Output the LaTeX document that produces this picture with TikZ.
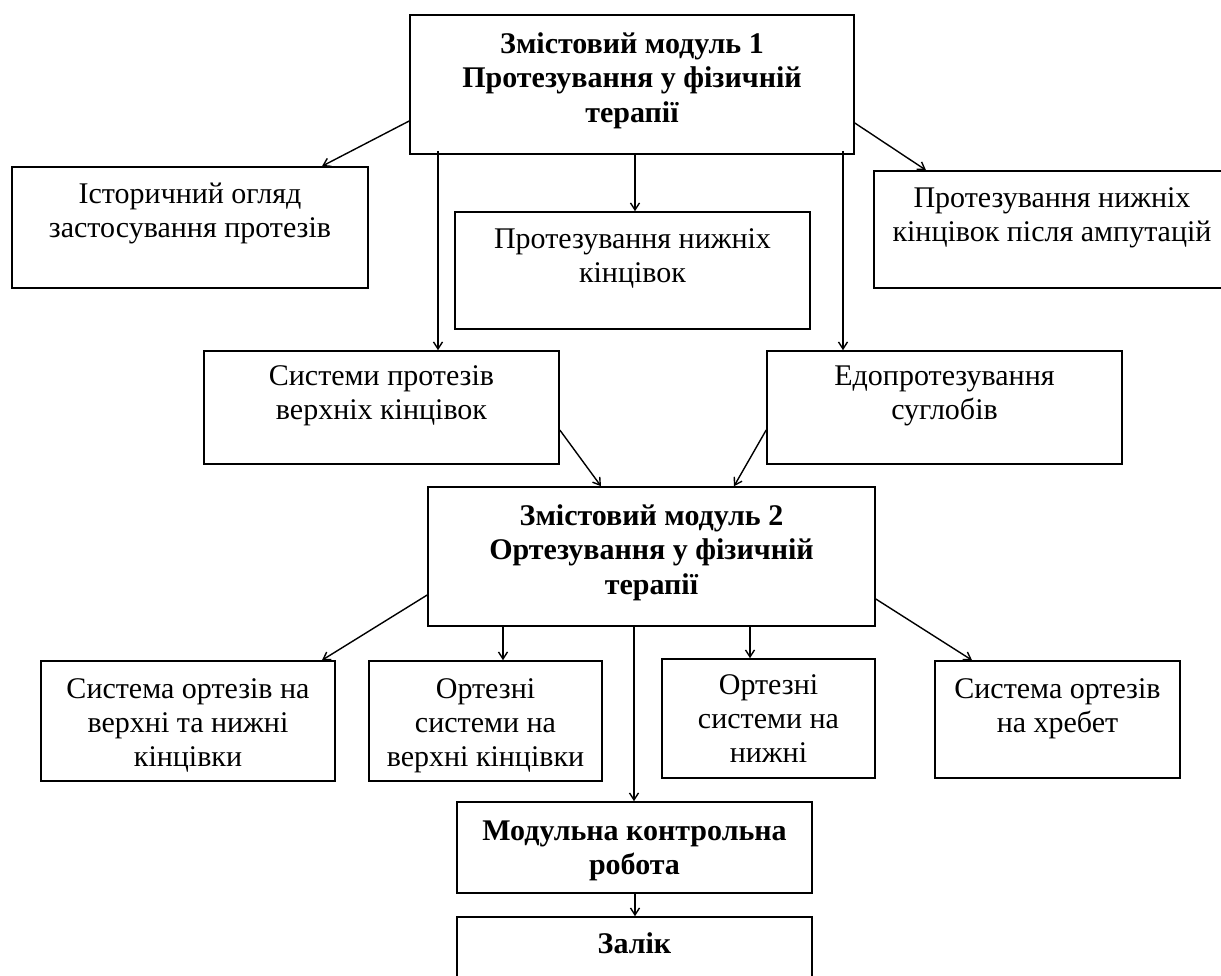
\documentclass[tikz,border=0pt]{standalone}
\usepackage{fontspec}
\setmainfont{Liberation Serif}
\usetikzlibrary{arrows.meta}
\newcommand{\tstr}{\rule{0pt}{22pt}}
\tikzset{
  box/.style={draw, line width=1.6pt, inner sep=0pt},
  txt/.style={align=center, inner sep=0pt, anchor=north, font=\fontsize{30}{34}\selectfont},
  btxt/.style={align=center, inner sep=0pt, anchor=north, font=\fontsize{30}{34.5}\selectfont\bfseries},
  arr/.style={line width=1.4pt, -{Straight Barb[length=7pt,width=9pt]}}
}
\begin{document}
\begin{tikzpicture}[x=1pt,y=-1pt]
\useasboundingbox (0,0) rectangle (1221,976);
\clip (0,0) rectangle (1221,976);
% boxes
\node[box, minimum width=444pt, minimum height=139pt] (m1) at (632,84.5) {};
\node[box, minimum width=356pt, minimum height=121pt] (hist) at (190,227.5) {};
\node[box, minimum width=355pt, minimum height=117pt] (lower) at (632.5,270.5) {};
\node[box, minimum width=356pt, minimum height=117pt] (post) at (1052,229.5) {};
\node[box, minimum width=355pt, minimum height=113pt] (sysup) at (381.5,407.5) {};
\node[box, minimum width=355pt, minimum height=113pt] (endo) at (944.5,407.5) {};
\node[box, minimum width=447pt, minimum height=139pt] (m2) at (651.5,556.5) {};
\node[box, minimum width=294pt, minimum height=120pt] (o1) at (188,721) {};
\node[box, minimum width=233pt, minimum height=120pt] (o2) at (485.5,721) {};
\node[box, minimum width=213pt, minimum height=119pt] (o3) at (768.5,718.5) {};
\node[box, minimum width=245pt, minimum height=117pt] (o4) at (1057.5,719.5) {};
\node[box, minimum width=355pt, minimum height=91pt] (mkr) at (634.5,847.5) {};
\node[box, minimum width=355pt, minimum height=78pt] (zal) at (634.5,956) {};
% texts
\node[btxt] (m1t) at (632,31) {\tstr Змістовий модуль 1\\Протезування у фізичній\\терапії};
\node[txt] (histt) at (190,181) {\tstr Історичний огляд\\застосування протезів};
\node[txt] (lowert) at (632.5,226) {\tstr Протезування нижніх\\кінцівок};
\node[txt] (postt) at (1052,185) {\tstr Протезування нижніх\\кінцівок після ампутацій};
\node[txt] (sysupt) at (381.5,363) {\tstr Системи протезів\\верхніх кінцівок};
\node[txt] (endot) at (944.5,363) {\tstr Едопротезування\\суглобів};
\node[btxt] (m2t) at (651.5,503) {\tstr Змістовий модуль 2\\Ортезування у фізичній\\терапії};
\node[txt] (o1t) at (188,676) {\tstr Система ортезів на\\верхні та нижні\\кінцівки};
\node[txt] (o2t) at (485.5,676) {\tstr Ортезні\\системи на\\верхні кінцівки};
\node[txt] (o3t) at (768.5,672) {\tstr Ортезні\\системи на\\нижні};
\node[txt] (o4t) at (1057.5,676) {\tstr Система ортезів\\на хребет};
\node[btxt] (mkrt) at (634.5,818) {\tstr Модульна контрольна\\робота};
\node[btxt] (zalt) at (634.5,931) {\tstr Залік};
% connectors
\draw[arr] ([yshift=-36.5pt]m1.west) -- ([xshift=132pt]hist.north);
\draw[arr] ([xshift=-194pt,yshift=4pt]m1.south) -- ([xshift=-194pt]m1.south |- sysup.north);
\draw[arr] ([xshift=3pt]m1.south) -- ([xshift=3pt]m1.south |- lower.north);
\draw[arr] ([xshift=211pt,yshift=4pt]m1.south) -- ([xshift=211pt]m1.south |- endo.north);
\draw[arr] ([yshift=-38.5pt]m1.east) -- ([xshift=-126pt]post.north);
\draw[arr] ([yshift=-22.5pt]sysup.east) -- ([xshift=-50.5pt]m2.north);
\draw[arr] ([yshift=-22.5pt]endo.west) -- ([xshift=82.5pt]m2.north);
\draw[arr] ([yshift=-38.5pt]m2.west) -- ([xshift=134pt]o1.north);
\draw[arr] ([xshift=-148.5pt]m2.south) -- ([xshift=-148.5pt]m2.south |- o2.north);
\draw[arr] ([xshift=98.5pt]m2.south) -- ([xshift=98.5pt]m2.south |- o3.north);
\draw[arr] ([yshift=-42.5pt]m2.east) -- ([xshift=-85.5pt]o4.north);
\draw[arr] ([xshift=-17.5pt]m2.south) -- ([xshift=-17.5pt]m2.south |- mkr.north);
\draw[arr] ([xshift=0.5pt]mkr.south) -- ([xshift=0.5pt]zal.north);
\end{tikzpicture}
\end{document}
